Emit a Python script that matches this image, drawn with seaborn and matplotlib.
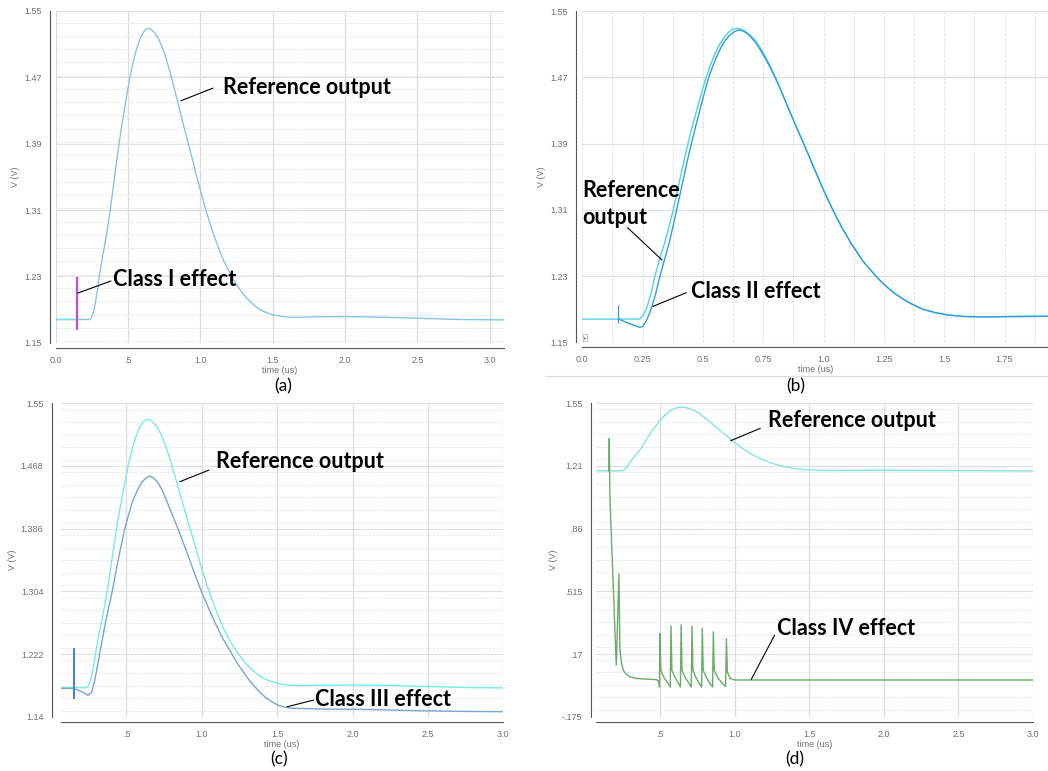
import numpy as np
import seaborn as sns
import matplotlib.pyplot as plt
from matplotlib.lines import Line2D
from matplotlib.ticker import MultipleLocator, FixedLocator

# reference output waveform (time in us, volts)
ref_t = [0.0, 0.15, 0.235, 0.245, 0.255, 0.265, 0.275, 0.288, 0.301, 0.32,
         0.341, 0.36, 0.377, 0.392, 0.407, 0.422, 0.438, 0.455, 0.474, 0.493,
         0.513, 0.53, 0.548, 0.566, 0.585, 0.605, 0.623, 0.641, 0.659, 0.677,
         0.695, 0.715, 0.735, 0.755, 0.778, 0.80, 0.822, 0.842, 0.862, 0.89,
         0.92, 0.948, 0.977, 1.007, 1.038, 1.075, 1.115, 1.163, 1.216, 1.25,
         1.29, 1.325, 1.36, 1.41, 1.46, 1.515, 1.58, 1.66, 1.8, 2.0,
         2.2, 2.5, 2.8, 3.1]
ref_v = [1.178, 1.178, 1.178, 1.180, 1.184, 1.190, 1.199, 1.213, 1.230, 1.250,
         1.270, 1.290, 1.310, 1.330, 1.350, 1.370, 1.390, 1.410, 1.430, 1.450,
         1.470, 1.484, 1.497, 1.508, 1.517, 1.524, 1.528, 1.529, 1.528, 1.525,
         1.521, 1.515, 1.507, 1.497, 1.484, 1.470, 1.455, 1.441, 1.427, 1.408,
         1.388, 1.369, 1.349, 1.329, 1.310, 1.289, 1.269, 1.248, 1.230, 1.220,
         1.210, 1.203, 1.197, 1.190, 1.186, 1.183, 1.1812, 1.1806, 1.1812, 1.1815,
         1.181, 1.1795, 1.178, 1.1775]

# (a) class I: short glitch at 0.15 us
pre_t = [0.0, 0.15]
pre_v = [1.178, 1.178]
c1_t = 0.15
c1_lo, c1_hi = 1.165, 1.2296

# (b) class II
c2_t = [0.15, 0.175, 0.2, 0.22, 0.239, 0.25, 0.26, 0.27, 0.28, 0.294,
        0.308, 0.322, 0.341, 0.36, 0.376, 0.391, 0.406, 0.421, 0.436, 0.452,
        0.469, 0.487, 0.505, 0.524, 0.54, 0.557, 0.575, 0.593, 0.612, 0.63,
        0.648, 0.665, 0.683, 0.70, 0.718, 0.738, 0.758, 0.78, 0.80, 0.822,
        0.842, 0.862, 0.89, 0.92, 0.948, 0.977, 1.007, 1.038, 1.075, 1.115,
        1.163, 1.216, 1.25, 1.29, 1.325, 1.36, 1.41, 1.46, 1.515, 1.58,
        1.66, 1.8, 2.0]
c2_v = [1.178, 1.175, 1.172, 1.170, 1.168, 1.169, 1.173, 1.179, 1.186, 1.198,
        1.213, 1.230, 1.250, 1.270, 1.290, 1.310, 1.330, 1.350, 1.370, 1.390,
        1.410, 1.430, 1.450, 1.470, 1.483, 1.495, 1.506, 1.515, 1.521, 1.525,
        1.527, 1.526, 1.523, 1.518, 1.512, 1.503, 1.493, 1.481, 1.469, 1.455,
        1.441, 1.427, 1.408, 1.388, 1.369, 1.349, 1.329, 1.310, 1.289, 1.269,
        1.248, 1.230, 1.220, 1.210, 1.203, 1.197, 1.190, 1.186, 1.183, 1.1812,
        1.1806, 1.1812, 1.1815]
c2_spike = (0.15, 1.173, 1.195)

# (c) class III
c3_t = [0.064, 0.15, 0.2, 0.245, 0.27, 0.29, 0.305, 0.323, 0.36, 0.405,
        0.445, 0.489, 0.517, 0.544, 0.575, 0.60, 0.628, 0.655, 0.683, 0.71,
        0.738, 0.765, 0.80, 0.842, 0.88, 0.92, 0.958, 0.998, 1.045, 1.09,
        1.14, 1.197, 1.235, 1.27, 1.31, 1.352, 1.39, 1.43, 1.47, 1.506,
        1.55, 1.6, 1.8, 2.07, 2.4, 2.7, 3.0]
c3_v = [1.177, 1.177, 1.173, 1.168, 1.172, 1.188, 1.203, 1.223, 1.262, 1.3035,
        1.345, 1.386, 1.406, 1.4235, 1.437, 1.446, 1.452, 1.455, 1.452, 1.446,
        1.436, 1.4235, 1.406, 1.386, 1.366, 1.345, 1.324, 1.3035, 1.282, 1.262,
        1.242, 1.223, 1.210, 1.200, 1.189, 1.179, 1.171, 1.164, 1.159, 1.155,
        1.1525, 1.151, 1.150, 1.1496, 1.148, 1.147, 1.1465]
c3_mark = (0.15, 1.163, 1.2294)

# (d) class IV
c4_t = [0.155, 0.158, 0.162, 0.175, 0.185, 0.195, 0.205, 0.223, 0.229, 0.24,
        0.252, 0.27, 0.297, 0.34, 0.386, 0.476, 0.490, 0.495, 0.498, 0.504,
        0.525, 0.55, 0.567, 0.572, 0.578, 0.60, 0.62, 0.635, 0.640, 0.646,
        0.668, 0.69, 0.708, 0.713, 0.719, 0.74, 0.76, 0.777, 0.782, 0.788,
        0.81, 0.83, 0.851, 0.856, 0.862, 0.885, 0.91, 0.938, 0.944, 0.950,
        0.97, 1.0, 1.05, 2.0, 3.0]
c4_v = [1.177, 1.357, 1.05, 0.75, 0.54, 0.32, 0.109, 0.61, 0.20, 0.12,
        0.081, 0.06, 0.044, 0.036, 0.033, 0.029, 0.020, -0.012, 0.283, 0.080,
        0.040, 0.012, -0.012, 0.324, 0.080, 0.040, 0.012, -0.012, 0.331, 0.080,
        0.040, 0.012, -0.012, 0.324, 0.080, 0.040, 0.012, -0.012, 0.311, 0.080,
        0.040, 0.012, -0.012, 0.292, 0.080, 0.040, 0.015, -0.008, 0.252, 0.070,
        0.035, 0.027, 0.027, 0.027, 0.027]

ticks_a = [1.15, 1.23, 1.31, 1.39, 1.47, 1.55]
ticks_c = [1.14, 1.222, 1.304, 1.386, 1.468, 1.55]
labels_c = ["1.14", "1.222", "1.304", "1.386", "1.468", "1.55"]
ticks_d = [-0.175, 0.17, 0.515, 0.86, 1.205, 1.55]
labels_d = ["-.175", ".17", ".515", ".86", "1.21", "1.55"]
xt_long = [0.5, 1.0, 1.5, 2.0, 2.5, 3.0]
xl_long = [".5", "1.0", "1.5", "2.0", "2.5", "3.0"]
xt_b = [0.0, 0.25, 0.5, 0.75, 1.0, 1.25, 1.5, 1.75]
xl_b = ["0.0", "0.25", "0.5", "0.75", "1.0", "1.25", "1.5", "1.75"]

sns.set_theme(style="white")
plt.rcParams['font.family'] = ['Liberation Sans', 'DejaVu Sans']

W, H = 1048, 771
fig = plt.figure(figsize=(W / 100, H / 100), dpi=100)


def box(l, t, r, b):
    return [l / W, 1 - b / H, (r - l) / W, (b - t) / H]


def style_axis(ax, off_left, off_bottom):
    for s in ['top', 'right']:
        ax.spines[s].set_visible(False)
    for s in ['left', 'bottom']:
        ax.spines[s].set_color('#555555')
        ax.spines[s].set_linewidth(0.8)
    ax.spines['left'].set_position(('outward', off_left * 0.72))
    ax.spines['bottom'].set_position(('outward', off_bottom * 0.72))
    ax.tick_params(which='major', direction='out', length=3.5, width=0.7,
                   color='#555555', labelsize=6.5, labelcolor='#707070', pad=2.5)
    ax.tick_params(which='minor', direction='out', length=2, width=0.6,
                   color='#555555')
    ax.set_xlabel("time (us)", fontsize=6.5, color='#707070', labelpad=0.5)
    ax.set_ylabel("V (V)", fontsize=6.5, color='#707070', labelpad=3)
    ax.set_axisbelow(True)


def callout(ax, text, txy, start, end, **kw):
    ax.annotate('', xy=end, xytext=start,
                arrowprops=dict(arrowstyle='-', color='black', lw=0.8,
                                shrinkA=0, shrinkB=0))
    ax.text(txy[0], txy[1], text, ha='left', va='center', fontsize=15.5,
            fontweight='bold', family='Lato', color='black', **kw)


def hgrid(ax, minor=True):
    ax.grid(which='major', axis='y', color='#e0e0e0', lw=0.8)
    if minor:
        ax.grid(which='minor', axis='y', color='#e6e6e6', lw=0.6, ls=(0, (3, 1.5)))


# ---------- (a) ----------
ax = fig.add_axes(box(55.7, 11, 504.2, 342.7))
sns.lineplot(x=ref_t, y=ref_v, ax=ax, color='#88c4e2', lw=1.0,
             estimator=None, sort=False)
sns.lineplot(x=pre_t, y=pre_v, ax=ax, color='#70e2ea', lw=1.0,
             estimator=None, sort=False)
ax.vlines(c1_t, c1_lo, c1_hi, color='#c34fcc', lw=1.6)
ax.set_xlim(0, 3.1)
ax.set_ylim(1.15, 1.55)
ax.set_xticks([0.0] + xt_long, ["0.0"] + xl_long)
ax.xaxis.set_minor_locator(MultipleLocator(0.1))
ax.set_yticks(ticks_a, [f"{v:.2f}" for v in ticks_a])
ax.yaxis.set_minor_locator(MultipleLocator(0.016))
hgrid(ax)
ax.grid(which='major', axis='x', color='#dcdcdc', lw=0.9)
style_axis(ax, 5.7, 5.3)
callout(ax, "Reference output", (1.157, 1.458), (1.087, 1.457), (0.866, 1.4418))
callout(ax, "Class I effect", (0.396, 1.2268), (0.382, 1.2244), (0.154, 1.2099))

# ---------- (b) ----------
ax = fig.add_axes(box(582.3, 11, 1048, 342.3))
sns.lineplot(x=ref_t, y=ref_v, ax=ax, color='#4fd3e3', lw=1.0,
             estimator=None, sort=False)
sns.lineplot(x=c2_t, y=c2_v, ax=ax, color='#2f9de0', lw=1.0,
             estimator=None, sort=False)
ax.vlines(c2_spike[0], c2_spike[1], c2_spike[2], color='#2f9de0', lw=0.9)
ax.set_xlim(0, 1.93)
ax.set_ylim(1.15, 1.55)
ax.set_xticks(xt_b, xl_b)
ax.xaxis.set_minor_locator(MultipleLocator(0.05))
ax.set_yticks(ticks_a, [f"{v:.2f}" for v in ticks_a])
ax.yaxis.set_minor_locator(MultipleLocator(0.008))
hgrid(ax, minor=False)
for xv in np.arange(0, 1.93, 0.125):
    ax.axvline(xv, color='#e4e4e4', lw=0.7, ls=(0, (3, 1.5)), zorder=0)
style_axis(ax, 6, 4.4)
ax.text(0.012, 1.156, "\u25b8", fontsize=4, color='#888888', ha='center', va='center',
        bbox=dict(boxstyle='square,pad=0.15', fc='white', ec='#aaaaaa', lw=0.5))
callout(ax, "Reference\noutput", (0.0, 1.317), (0.1877, 1.2884), (0.3301, 1.2494),
        linespacing=1.4)
callout(ax, "Class II effect", (0.449, 1.2108), (0.431, 1.2099), (0.2929, 1.1934))

# ---------- (c) ----------
ax = fig.add_axes(box(60.7, 403.3, 503.3, 716.7))
sns.lineplot(x=ref_t, y=ref_v, ax=ax, color='#78ebe5', lw=1.0,
             estimator=None, sort=False)
sns.lineplot(x=c3_t, y=c3_v, ax=ax, color='#7aa3d6', lw=1.0,
             estimator=None, sort=False)
ax.vlines(c3_mark[0], c3_mark[1], c3_mark[2], color='#3f80d8', lw=1.4)
ax.set_xlim(0.064, 3.0)
ax.set_ylim(1.14, 1.55)
ax.set_xticks(xt_long, xl_long)
ax.xaxis.set_minor_locator(FixedLocator(np.arange(0.1, 3.0, 0.1)))
ax.set_yticks(ticks_c, labels_c)
ax.yaxis.set_minor_locator(MultipleLocator(0.0164))
hgrid(ax)
ax.grid(which='major', axis='x', color='#dcdcdc', lw=0.9)
style_axis(ax, 9, 5)
callout(ax, "Reference output", (1.093, 1.4736), (1.048, 1.4627), (0.854, 1.4474))
callout(ax, "Class III effect", (1.75, 1.1627), (1.743, 1.1618), (1.566, 1.153))

# ---------- (d) ----------
ax = fig.add_axes(box(596.3, 403.3, 1033, 716.7))
sns.lineplot(x=ref_t, y=ref_v, ax=ax, color='#84e5e5', lw=1.0,
             estimator=None, sort=False)
sns.lineplot(x=c4_t, y=c4_v, ax=ax, color='#69ab69', lw=1.0,
             estimator=None, sort=False)
ax.set_xlim(0.071, 3.0)
ax.set_ylim(-0.175, 1.55)
ax.set_xticks(xt_long, xl_long)
ax.xaxis.set_minor_locator(FixedLocator(np.arange(0.1, 3.0, 0.1)))
ax.set_yticks(ticks_d, labels_d)
ax.yaxis.set_minor_locator(MultipleLocator(0.069))
hgrid(ax)
ax.grid(which='major', axis='x', color='#dcdcdc', lw=0.9)
style_axis(ax, 5.6, 5)
callout(ax, "Reference output", (1.222, 1.4542), (1.171, 1.4123), (0.972, 1.344))
callout(ax, "Class IV effect", (1.285, 0.311), (1.267, 0.274), (1.110, 0.030))

# separator under (b) and panel letters
fig.add_artist(Line2D([545 / W, 1.0], [1 - 376 / H, 1 - 376 / H], color='#dddddd', lw=0.8))
for lab, xp, yp in [("(a)", 283, 386), ("(b)", 796, 386), ("(c)", 279, 759), ("(d)", 795, 759)]:
    fig.text(xp / W, 1 - yp / H, lab, ha='center', va='center', fontsize=12.5,
             family='Lato', color='black')

fig.savefig("out.png", dpi=100)
